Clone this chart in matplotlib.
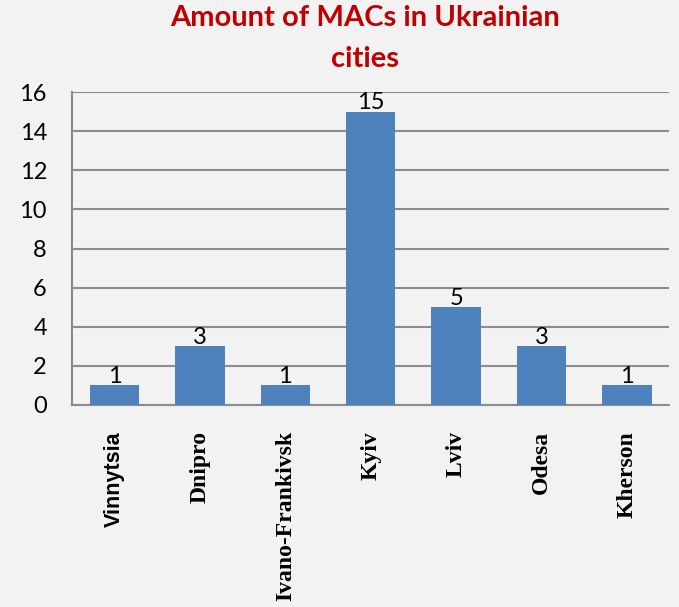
import matplotlib
matplotlib.use("Agg")
import matplotlib.pyplot as plt
import numpy as np

cities = ["Vinnytsia", "Dnipro", "Ivano-Frankivsk", "Kyiv", "Lviv", "Odesa", "Kherson"]
macs = [1, 3, 1, 15, 5, 3, 1]
y_ticks = [0, 2, 4, 6, 8, 10, 12, 14, 16]

bg = "#f2f2f2"
fig = plt.figure(figsize=(6.79, 6.07), dpi=100, facecolor=bg)
ax = fig.add_axes([0.106, 0.333, 0.880, 0.515], facecolor=bg)

x = np.arange(len(cities))
ax.bar(x, macs, width=0.58, color="#4f81bd", zorder=3)

# value labels on top of the bars
for xi, v in zip(x, macs):
    ax.annotate(str(v), (xi, v), xytext=(0, -1), textcoords="offset points",
                ha="center", va="bottom", fontsize=17, family="Lato", zorder=4)

ax.set_xlim(-0.5, len(cities) - 0.5)
ax.set_ylim(0, 16)
ax.set_yticks(y_ticks)
ax.set_yticklabels([str(t) for t in y_ticks], fontsize=17, family="Lato")
ax.yaxis.grid(True, color="#8c8c8c", linewidth=1.5, zorder=0)
ax.tick_params(axis="y", length=0, pad=18)
ax.tick_params(axis="x", length=0, pad=19)

ax.set_xticks(x)
ax.set_xticklabels(cities, rotation=90, va="top")
for i, lab in enumerate(ax.get_xticklabels()):
    lab.set_fontweight("bold")
    if i == 0:
        lab.set_fontsize(15.5)
        lab.set_family("Liberation Sans")
    else:
        lab.set_fontsize(17)
        lab.set_family("Liberation Serif")

for s in ["top", "right"]:
    ax.spines[s].set_visible(False)
for s in ["left", "bottom"]:
    ax.spines[s].set_color("#8c8c8c")
    ax.spines[s].set_linewidth(1.5)

fig.text(0.5376, 0.992, "Amount of MACs in Ukrainian\ncities", ha="center", va="top",
         color="#c00000", fontsize=21, fontweight="bold", family="Lato",
         linespacing=1.7)

fig.savefig("out.png", dpi=100, facecolor=bg)
